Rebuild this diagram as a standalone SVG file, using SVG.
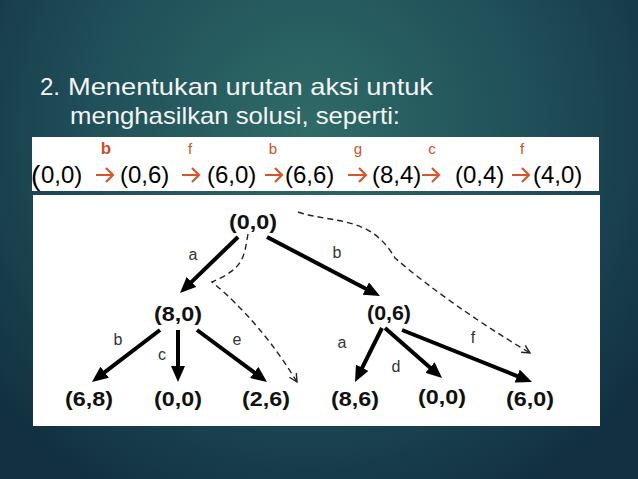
<svg xmlns="http://www.w3.org/2000/svg" width="638" height="479" viewBox="0 0 638 479">
<defs>
<radialGradient id="bg" cx="310" cy="130" r="420" gradientUnits="userSpaceOnUse">
<stop offset="0" stop-color="#2f6b67"/>
<stop offset="0.55" stop-color="#1f4e58"/>
<stop offset="1" stop-color="#12303f"/>
</radialGradient>
<marker id="ah" viewBox="0 0 16 14" refX="6" refY="7" markerWidth="16" markerHeight="14" markerUnits="userSpaceOnUse" orient="auto">
<path d="M0,0 L16,7 L0,14 z" fill="#000"/>
</marker>
<marker id="oh" viewBox="0 0 10 10" refX="9" refY="5" markerWidth="10" markerHeight="10" markerUnits="userSpaceOnUse" orient="auto">
<path d="M1,1 L9,5 L1,9" fill="none" stroke="#222" stroke-width="1.4"/>
</marker>
</defs>
<style>
.title{font-family:"Liberation Sans",Arial,sans-serif;font-size:24px;fill:#f4f4f4}
.seq{font-family:"Liberation Sans",Arial,sans-serif;font-size:24px;fill:#000}
.lbl{font-family:"Liberation Sans",Arial,sans-serif;font-size:15px;fill:#c9502a;text-anchor:middle}
.oarr{fill:none;stroke:#d4572a;stroke-width:2.2}
.node{font-family:"Liberation Sans",Arial,sans-serif;font-size:20px;font-weight:bold;fill:#111;text-anchor:middle}
.el{font-family:"Liberation Sans",Arial,sans-serif;font-size:16px;fill:#333;text-anchor:middle}
.edge{stroke:#000;stroke-width:4;fill:none;marker-end:url(#ah)}
.dash{stroke:#222;stroke-width:1.4;fill:none;stroke-dasharray:6 4;marker-end:url(#oh)}
</style>
<rect x="0" y="0" width="638" height="479" fill="url(#bg)"/>
<g id="title">
<text class="title" x="40" y="95">2.</text>
<text class="title" x="68" y="95" textLength="365" lengthAdjust="spacingAndGlyphs">Menentukan urutan aksi untuk</text>
<text class="title" x="70" y="124" textLength="330" lengthAdjust="spacingAndGlyphs">menghasilkan solusi, seperti:</text>
</g>
<g id="sequence">
<rect x="32" y="137" width="567" height="54" fill="#fff"/>
<text class="seq" x="31" y="185" style="font-size:28px">(</text>
<text class="seq" x="41" y="183">0,0)</text>
<text class="seq" x="120" y="183">(0,6)</text>
<text class="seq" x="207" y="183">(6,0)</text>
<text class="seq" x="285" y="183">(6,6)</text>
<text class="seq" x="372" y="183">(8,4)</text>
<text class="seq" x="455" y="183">(0,4)</text>
<text class="seq" x="533" y="183">(4,0)</text>
<path class="oarr" d="M96,175 H113 M106,168 L113,175 L106,182"/>
<path class="oarr" d="M182,175 H199 M192,168 L199,175 L192,182"/>
<path class="oarr" d="M265,175 H282 M275,168 L282,175 L275,182"/>
<path class="oarr" d="M348,175 H366 M359,168 L366,175 L359,182"/>
<path class="oarr" d="M422,175 H439 M432,168 L439,175 L432,182"/>
<path class="oarr" d="M512,175 H529 M522,168 L529,175 L522,182"/>
<text class="lbl" x="106" y="154" style="font-weight:bold;font-size:17px">b</text>
<text class="lbl" x="190" y="154">f</text>
<text class="lbl" x="273" y="154">b</text>
<text class="lbl" x="358" y="154">g</text>
<text class="lbl" x="432" y="154">c</text>
<text class="lbl" x="522" y="154">f</text>
</g>
<rect x="33" y="195" width="567" height="231" fill="#fff"/>
<g id="connectors">
<line class="edge" x1="238" y1="237" x2="187.2" y2="286.1"/>
<line class="edge" x1="267" y1="237" x2="371.1" y2="291.4"/>
<line class="edge" x1="160" y1="330" x2="99.9" y2="375.9"/>
<line class="edge" x1="178" y1="330" x2="178" y2="372"/>
<line class="edge" x1="197" y1="330" x2="259" y2="376"/>
<line class="edge" x1="382" y1="328" x2="359.5" y2="373.1"/>
<line class="edge" x1="385" y1="328" x2="434.5" y2="371.4"/>
<line class="edge" x1="402" y1="330" x2="522.7" y2="378.3"/>
<path class="dash" d="M248,234 C244,256 245,268 212,282 C224,292 262,324 297,382"/>
<path class="dash" d="M298,212 C335,224 370,215 395,258 Q450,305 530,353"/>
<text class="el" x="193" y="260">a</text>
<text class="el" x="337" y="258">b</text>
<text class="el" x="118" y="345">b</text>
<text class="el" x="162" y="360">c</text>
<text class="el" x="237" y="345">e</text>
<text class="el" x="342" y="348">a</text>
<text class="el" x="396" y="372">d</text>
<text class="el" x="473" y="343">f</text>
</g>
<g id="n-root"><text class="node" x="253" y="229" textLength="48" lengthAdjust="spacingAndGlyphs">(0,0)</text></g>
<g id="n-80"><text class="node" x="178" y="321" textLength="48" lengthAdjust="spacingAndGlyphs">(8,0)</text></g>
<g id="n-06"><text class="node" x="389" y="320" textLength="44" lengthAdjust="spacingAndGlyphs">(0,6)</text></g>
<g id="n-68"><text class="node" x="89" y="406" textLength="48" lengthAdjust="spacingAndGlyphs">(6,8)</text></g>
<g id="n-00a"><text class="node" x="178" y="406" textLength="48" lengthAdjust="spacingAndGlyphs">(0,0)</text></g>
<g id="n-26"><text class="node" x="266" y="406" textLength="48" lengthAdjust="spacingAndGlyphs">(2,6)</text></g>
<g id="n-86"><text class="node" x="355" y="406" textLength="48" lengthAdjust="spacingAndGlyphs">(8,6)</text></g>
<g id="n-00b"><text class="node" x="442" y="404" textLength="48" lengthAdjust="spacingAndGlyphs">(0,0)</text></g>
<g id="n-60"><text class="node" x="530" y="406" textLength="48" lengthAdjust="spacingAndGlyphs">(6,0)</text></g>
</svg>
